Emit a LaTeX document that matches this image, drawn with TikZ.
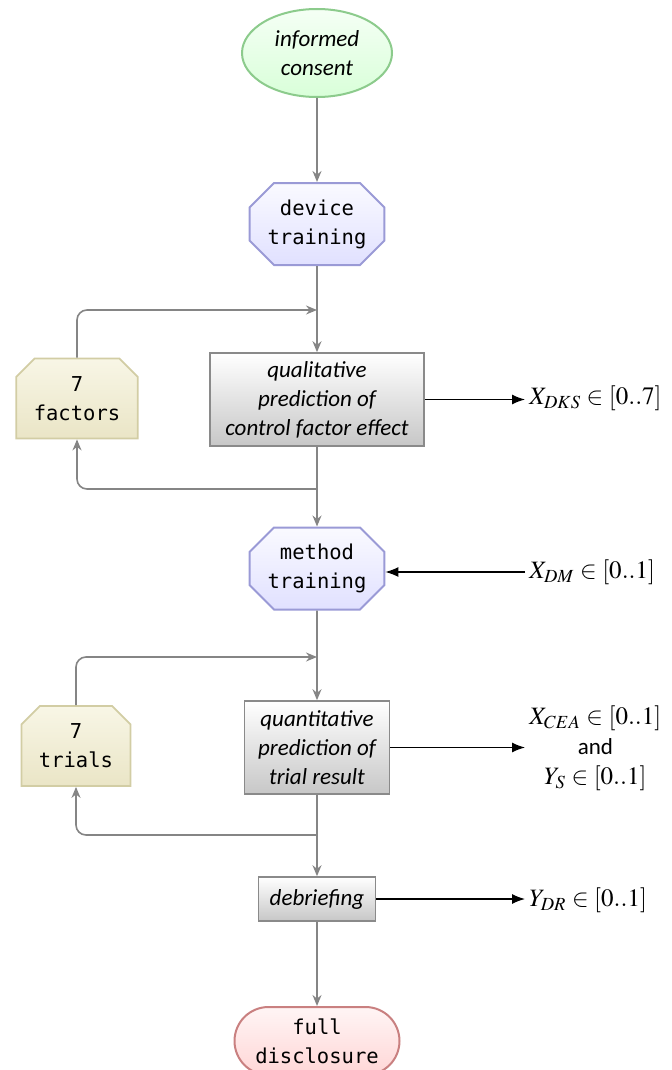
\documentclass[tikz,border=0pt]{standalone}
\usepackage{mathptmx}
\usepackage[no-math]{fontspec}
\setmainfont{Carlito}
\setmonofont{DejaVu Sans Mono}
\usepackage{xcolor}
\usepackage{tikz}
\usetikzlibrary{arrows.meta,shapes.geometric,shapes.misc}

\definecolor{flowgray}{HTML}{858585}
\definecolor{consentline}{HTML}{8CCB8C}
\definecolor{trainline}{HTML}{9A9AD6}
\definecolor{countline}{HTML}{D2CDA4}
\definecolor{counttop}{HTML}{F8F6E6}
\definecolor{countbottom}{HTML}{EAE5C6}
\definecolor{taskline}{HTML}{8A8A8A}
\definecolor{closeline}{HTML}{C98080}

\begin{document}
\begin{tikzpicture}[x=0.5pt,y=-0.5pt,
  flow/.style={draw=flowgray, line width=0.8pt, -{Stealth[length=5.5pt,width=4.5pt]}},
  outflow/.style={draw=black, line width=0.6pt, -{Latex[length=6.5pt,width=5pt]}},
  talk/.style={font=\fontsize{11.5}{14.5}\selectfont\itshape, align=center},
  code/.style={font=\fontsize{10.25}{14.5}\selectfont\ttfamily, align=center},
  training/.style={code, chamfered rectangle, chamfered rectangle xsep=9pt,
    draw=trainline, line width=1pt, top color=blue!2, bottom color=blue!12,
    minimum width=50pt, minimum height=41pt, inner sep=0pt},
  counter/.style={code, chamfered rectangle, chamfered rectangle corners={north west,north east},
    chamfered rectangle xsep=6pt, draw=countline, line width=0.9pt,
    top color=counttop, bottom color=countbottom,
    minimum height=40pt, inner xsep=2.75pt, inner ysep=0pt},
  task/.style={talk, rectangle, draw=taskline, line width=0.8pt,
    top color=white, bottom color=black!22, inner sep=2pt},
  result/.style={anchor=west, font=\fontsize{12.5}{15}\selectfont, align=center, inner xsep=2pt}]

\useasboundingbox (0,0) rectangle (672,1070);

% Main line
\node[ellipse, draw=consentline, line width=1pt, top color=green!4, bottom color=green!15,
  minimum width=75pt, minimum height=44pt, inner sep=0pt, talk] (consent) at (317,53) {informed\\consent};
\node[training] (device) at (317,224) {device\\training};
\node[task, minimum width=107pt, minimum height=46.5pt] (qual) at (317,399.5) {qualitative\\prediction of\\control factor effect};
\node[training] (method) at (317,568.5) {method\\training};
\node[task, minimum width=72.5pt, minimum height=46.5pt] (quant) at (317,747.5) {quantitative\\prediction of\\trial result};
\node[task, minimum width=58.5pt, minimum height=22pt] (debrief) at (317,899) {debriefing};
\node[code, rounded rectangle, draw=closeline, line width=1pt, top color=red!4, bottom color=red!16,
  minimum width=82.5pt, minimum height=34pt, inner sep=0pt] (disclosure) at (317,1041) {full\\disclosure};

% Repetitions
\node[counter] (factors) at (77,398.5) {7\\factors};
\node[counter] (trials) at (76,746) {7\\trials};

% Measures
\node[result] (xdks) at (525,398) {$X_{DKS}\in[0..7]$};
\node[result] (xdm) at (525,572) {$X_{DM}\in[0..1]$};
\node[result] (xcea) at (525,748) {$X_{CEA}\in[0..1]$\\{\fontsize{11.5}{15}\selectfont and}\\$Y_{S}\in[0..1]$};
\node[result] (ydr) at (525,900) {$Y_{DR}\in[0..1]$};

\coordinate (in1) at (317,310);
\coordinate (back1) at (317,489);
\coordinate (in2) at (317,657);
\coordinate (back2) at (317,835);

\draw[flow] (consent) -- (device);
\draw[flow] (device) -- (qual);
\draw[flow] (qual) -- (method);
\draw[flow] (method) -- (quant);
\draw[flow] (quant) -- (debrief);
\draw[flow] (debrief) -- (disclosure);

% Loops
\draw[flow, rounded corners=5pt] (factors.north) |- (in1);
\draw[flow, rounded corners=5pt] (back1) -| (factors.south);
\draw[flow, rounded corners=5pt] (trials.north) |- (in2);
\draw[flow, rounded corners=5pt] (back2) -| (trials.south);

% Outputs
\draw[outflow] (qual.east) -- (qual.east -| xdks.west);
\draw[outflow] (xdm.west) -- (xdm.west -| method.east);
\draw[outflow] (quant.east) -- (quant.east -| xcea.west);
\draw[outflow] (debrief.east) -- (debrief.east -| ydr.west);
\end{tikzpicture}
\end{document}
